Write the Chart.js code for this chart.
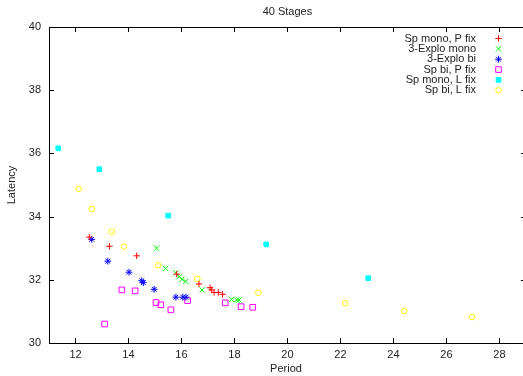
<!DOCTYPE html>
<html>
<head>
<meta charset="utf-8">
<script src="https://cdn.jsdelivr.net/npm/chart.js@4/dist/chart.umd.min.js"></script>
<style>
  html, body { margin: 0; padding: 0; background: #fff; }
  #wrap { width: 523px; height: 376px; }
</style>
</head>
<body>
<div id="wrap"><canvas id="myChart"></canvas></div>
<script>
// Series labels, in legend order
const seriesNames = ['Sp mono, P fix', '3-Explo mono', '3-Explo bi', 'Sp bi, P fix', 'Sp mono, L fix', 'Sp bi, L fix']

// Values: [period, latency]
const spMonoPfix = [[12.52, 33.35], [13.28, 33.06], [14.31, 32.76], [15.82, 32.18], [16.66, 31.87],
  [17.08, 31.75], [17.14, 31.68], [17.23, 31.60], [17.39, 31.60], [17.55, 31.54]]
const exploMono = [[15.06, 33.00], [15.40, 32.36], [15.79, 32.22], [15.91, 32.10], [16.02, 32.02],
  [16.16, 31.95], [16.78, 31.68], [17.89, 31.38], [18.08, 31.36], [18.17, 31.36]]
const exploBi = [[12.61, 33.28], [13.22, 32.59], [14.02, 32.24], [14.50, 31.97], [14.56, 31.91],
  [14.97, 31.70], [15.79, 31.45], [16.05, 31.45], [16.17, 31.45]]
const spBiPfix = [[13.10, 30.60], [13.75, 31.68], [14.25, 31.65], [15.04, 31.28], [15.22, 31.21],
  [15.60, 31.05], [16.23, 31.34], [17.65, 31.27], [18.25, 31.15], [18.69, 31.13]]
const spMonoLfix = [[11.35, 36.16], [12.90, 35.50], [15.50, 34.03], [19.20, 33.12], [23.05, 32.05]]
const spBiLfix = [[12.12, 34.88], [12.61, 34.24], [13.37, 33.52], [13.82, 33.05], [15.12, 32.46],
  [16.60, 32.03], [18.90, 31.59], [22.18, 31.26], [24.41, 31.01], [26.97, 30.82]]

// Tick labels
const xTicks = [12, 14, 16, 18, 20, 22, 24, 26, 28]
const yTicks = [30, 32, 34, 36, 38, 40]

const fontFamily = '"Liberation Sans", Arial, sans-serif'
const textColor = '#222'

function toPoints(arr) {
  return arr.map(function(p) { return { x: p[0], y: p[1] } })
}

// Estilo de cada serie (tipo gnuplot)
const styles = [
  { color: '#ff0000', pointStyle: 'cross', radius: 3.2, fill: false },
  { color: '#00ff00', pointStyle: 'crossRot', radius: 3.8, fill: false },
  { color: '#0000ff', pointStyle: 'star', radius: 3.4, fill: false },
  { color: '#ff00ff', pointStyle: 'rect', radius: 4, fill: false },
  { color: '#00ffff', pointStyle: 'rect', radius: 3.3, fill: true },
  { color: '#ffff00', pointStyle: 'circle', radius: 2.8, fill: false }
]
const allSeries = [spMonoPfix, exploMono, exploBi, spBiPfix, spMonoLfix, spBiLfix]

const datasets = allSeries.map(function(s, i) {
  const st = styles[i]
  return {
    label: seriesNames[i],
    data: toPoints(s),
    pointStyle: st.pointStyle,
    pointRadius: st.radius,
    pointHoverRadius: st.radius,
    pointBorderWidth: 1,
    pointBorderColor: st.color,
    pointBackgroundColor: st.fill ? st.color : 'rgba(0,0,0,0)',
    showLine: false
  }
})

// Plugin: marco, ticks hacia dentro, título y leyenda al estilo gnuplot
const gnuplotFrame = {
  id: 'gnuplotFrame',
  afterDraw(chart) {
    const ctx = chart.ctx
    const a = chart.chartArea
    const xs = chart.scales.x
    const ys = chart.scales.y
    // el borde derecho queda fuera del lienzo (x = 29)
    const rightEdge = xs.getPixelForValue(29)
    ctx.save()
    ctx.strokeStyle = '#000'
    ctx.lineWidth = 1
    ctx.beginPath()
    ctx.moveTo(a.left, a.top + 0.5); ctx.lineTo(a.right, a.top + 0.5)
    const len = 5
    xTicks.forEach(function(v) {
      const px = Math.round(xs.getPixelForValue(v)) + 0.5
      ctx.moveTo(px, a.bottom); ctx.lineTo(px, a.bottom - len)
      ctx.moveTo(px, a.top); ctx.lineTo(px, a.top + len)
    })
    yTicks.forEach(function(v) {
      const py = Math.round(ys.getPixelForValue(v)) + 0.5
      ctx.moveTo(a.left, py); ctx.lineTo(a.left + len, py)
      ctx.moveTo(rightEdge, py); ctx.lineTo(rightEdge - len, py)
    })
    ctx.stroke()

    // título
    ctx.fillStyle = textColor
    ctx.font = '11px ' + fontFamily
    ctx.textAlign = 'center'
    ctx.textBaseline = 'middle'
    ctx.fillText('40 Stages', (a.left + rightEdge) / 2, 12)

    // leyenda
    ctx.textAlign = 'right'
    chart.data.datasets.forEach(function(ds, i) {
      const y = 38.5 + i * 10.35
      ctx.fillStyle = textColor
      ctx.fillText(ds.label, 476, y)
      ctx.strokeStyle = ds.pointBorderColor
      ctx.fillStyle = ds.pointBackgroundColor
      ctx.lineWidth = 1
      Chart.helpers.drawPoint(ctx, { pointStyle: ds.pointStyle, radius: ds.pointRadius, borderWidth: 1, rotation: 0 }, 498.5, y)
    })
    ctx.restore()
  }
}

const ctx = document.getElementById('myChart')

new Chart(ctx, {
  type: 'scatter',
  data: { datasets: datasets },
  options: {
    responsive: true,
    maintainAspectRatio: false,
    animation: false,
    layout: { autoPadding: false, padding: { top: 27, right: 0, left: 0, bottom: 0 } },
    plugins: {
      legend: { display: false },
      title: { display: false },
      tooltip: { enabled: false }
    },
    scales: {
      x: {
        type: 'linear',
        min: 11,
        max: 28.89,
        afterFit: function(scale) {
          scale.height = 33
          scale.paddingLeft = 0
          scale.paddingRight = 0
        },
        afterBuildTicks: function(scale) { scale.ticks = xTicks.map(function(v) { return { value: v } }) },
        grid: { drawOnChartArea: false, drawTicks: false },
        border: { display: true, color: '#000', width: 1 },
        ticks: { padding: 5, color: textColor, font: { family: fontFamily, size: 11 } },
        title: { display: true, text: 'Period', color: textColor, padding: 0, font: { family: fontFamily, size: 11 } }
      },
      y: {
        type: 'linear',
        min: 30,
        max: 40,
        afterFit: function(scale) {
          scale.width = 49
          scale.paddingTop = 0
          scale.paddingBottom = 0
        },
        afterBuildTicks: function(scale) { scale.ticks = yTicks.map(function(v) { return { value: v } }) },
        grid: { drawOnChartArea: false, drawTicks: false },
        border: { display: true, color: '#000', width: 1 },
        ticks: { padding: 8, color: textColor, font: { family: fontFamily, size: 11 } },
        title: { display: true, text: 'Latency', color: textColor, padding: { top: 5, bottom: 0 }, font: { family: fontFamily, size: 11 } }
      }
    }
  },
  plugins: [gnuplotFrame]
})
</script>
</body>
</html>
